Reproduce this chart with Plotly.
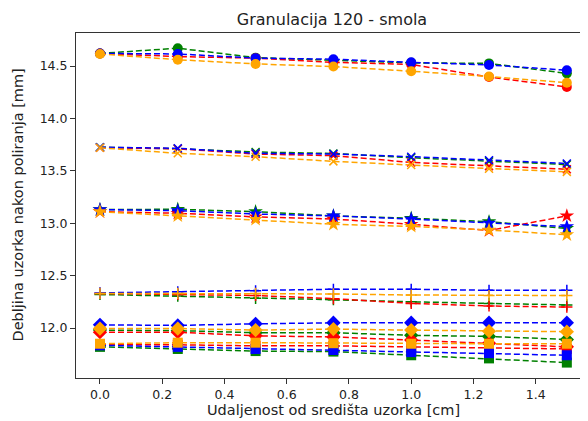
import plotly.graph_objects as go

x_vals = [0.0, 0.25, 0.5, 0.75, 1.0, 1.25, 1.5]

colors = ["green", "red", "blue", "orange"]
color_hex = {"green": "#008000", "red": "#ff0000", "blue": "#0000ff", "orange": "#ffa500"}

circle_green = [14.62, 14.67, 14.58, 14.555, 14.53, 14.525, 14.43]
circle_red = [14.62, 14.59, 14.575, 14.535, 14.515, 14.395, 14.30]
circle_blue = [14.62, 14.615, 14.575, 14.565, 14.535, 14.51, 14.46]
circle_orange = [14.615, 14.56, 14.52, 14.495, 14.45, 14.40, 14.34]

x_green = [13.725, 13.71, 13.68, 13.665, 13.625, 13.59, 13.56]
x_red = [13.72, 13.71, 13.66, 13.645, 13.58, 13.545, 13.515]
x_blue = [13.725, 13.715, 13.667, 13.66, 13.635, 13.60, 13.57]
x_orange = [13.72, 13.667, 13.635, 13.59, 13.555, 13.52, 13.49]

star_green = [13.13, 13.133, 13.11, 13.07, 13.047, 13.015, 12.95]
star_red = [13.11, 13.095, 13.06, 13.04, 12.99, 12.93, 13.07]
star_blue = [13.13, 13.12, 13.088, 13.07, 13.04, 13.0, 12.967]
star_orange = [13.11, 13.07, 13.037, 12.99, 12.97, 12.935, 12.89]

plus_green = [12.32, 12.305, 12.283, 12.27, 12.25, 12.235, 12.22]
plus_red = [12.33, 12.32, 12.31, 12.28, 12.235, 12.21, 12.20]
plus_blue = [12.335, 12.345, 12.355, 12.37, 12.37, 12.36, 12.36]
plus_orange = [12.33, 12.33, 12.33, 12.325, 12.315, 12.31, 12.31]

diamond_green = [11.98, 11.975, 11.955, 11.955, 11.93, 11.92, 11.89]
diamond_red = [11.96, 11.96, 11.925, 11.915, 11.885, 11.855, 11.82]
diamond_blue = [12.03, 12.025, 12.04, 12.05, 12.05, 12.05, 12.05]
diamond_orange = [11.995, 11.995, 11.98, 11.99, 11.98, 11.97, 11.965]

square_green = [11.82, 11.80, 11.78, 11.775, 11.74, 11.71, 11.67]
square_red = [11.84, 11.84, 11.83, 11.83, 11.82, 11.81, 11.80]
square_blue = [11.835, 11.82, 11.80, 11.79, 11.77, 11.76, 11.74]
square_orange = [11.85, 11.86, 11.86, 11.855, 11.85, 11.85, 11.85]

x_ticks = [0.0, 0.2, 0.4, 0.6, 0.8, 1.0, 1.2, 1.4]
y_ticks = [12.0, 12.5, 13.0, 13.5, 14.0, 14.5]

groups = [
    ("circle", 10, {"green": circle_green, "red": circle_red, "blue": circle_blue, "orange": circle_orange}),
    ("x-thin", 8, {"green": x_green, "red": x_red, "blue": x_blue, "orange": x_orange}),
    ("star", 11, {"green": star_green, "red": star_red, "blue": star_blue, "orange": star_orange}),
    ("cross-thin", 8, {"green": plus_green, "red": plus_red, "blue": plus_blue, "orange": plus_orange}),
    ("diamond", 11, {"green": diamond_green, "red": diamond_red, "blue": diamond_blue, "orange": diamond_orange}),
    ("square", 10, {"green": square_green, "red": square_red, "blue": square_blue, "orange": square_orange}),
]

fig = go.Figure()
for c in colors:
    for sym, size, data in groups:
        col = color_hex[c]
        fig.add_trace(go.Scatter(
            x=x_vals, y=data[c], mode="lines+markers",
            line=dict(color=col, width=1.5, dash="6px,3px"),
            marker=dict(symbol=sym, size=size, color=col,
                        line=dict(color=col, width=1.5 if "thin" in sym else 0)),
            showlegend=False,
        ))

# the page body has an 8px margin, so the figure is offset by 8px
W, H = 580, 413
fig.update_layout(
    width=W, height=H,
    margin=dict(l=68, r=0, t=25, b=43),
    paper_bgcolor="white", plot_bgcolor="white",
    font=dict(family="DejaVu Sans", size=12, color="#222"),
    title=dict(text="Granulacija 120 - smola", x=0.5, xref="paper",
               y=1 - 11 / H, yref="container", yanchor="middle",
               xanchor="center", font=dict(size=16, color="#222")),
    xaxis=dict(range=[-0.077, 1.568], tickvals=x_ticks,
               ticktext=[f"{v:.1f}" for v in x_ticks],
               showgrid=False, zeroline=False, showline=True, mirror=True,
               linecolor="#333", linewidth=1, ticks="outside", ticklen=5,
               tickcolor="#333", tickfont=dict(size=12.5)),
    yaxis=dict(range=[11.523, 14.815], tickvals=y_ticks,
               ticktext=[f"{v:.1f}" for v in y_ticks],
               showgrid=False, zeroline=False, showline=True, mirror=False,
               linecolor="#333", linewidth=1, ticks="outside", ticklen=5,
               tickcolor="#333", tickfont=dict(size=12.5)),
    annotations=[
        dict(text="Udaljenost od središta uzorka [cm]", xref="paper", yref="paper",
             x=(333 - 76) / 512, y=(378 - 410) / 345, xanchor="center", yanchor="middle",
             showarrow=False, font=dict(size=14.5, color="#222")),
        dict(text="Debljina uzorka nakon poliranja [mm]", xref="paper", yref="paper",
             x=(17 - 76) / 512, y=0.5, xanchor="center", yanchor="middle",
             textangle=-90, showarrow=False, font=dict(size=14.5, color="#222")),
    ],
)

fig.write_html("out.html")
